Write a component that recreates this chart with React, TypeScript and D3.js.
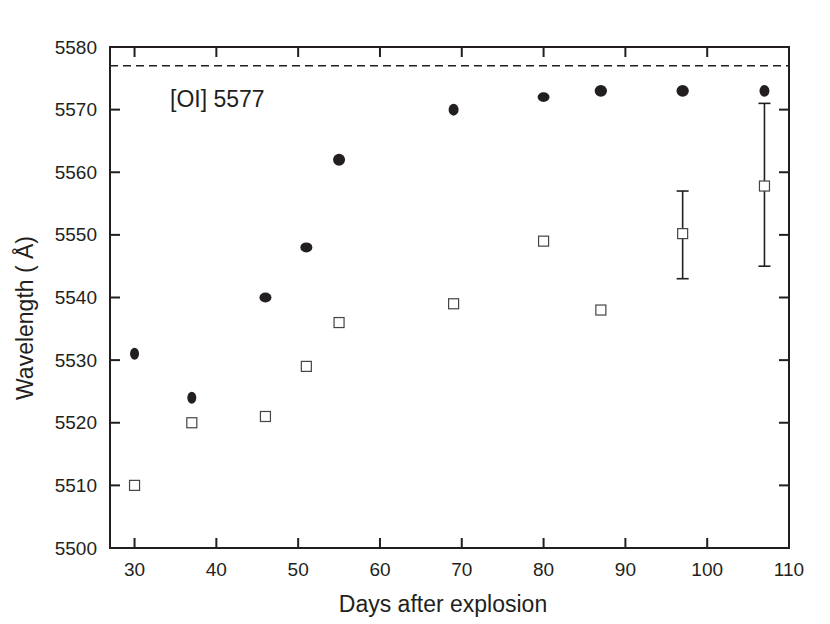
import React from "react";
import * as d3 from "d3";

const days = [30, 37, 46, 51, 55, 69, 80, 87, 97, 107];
const filledValues = [5531, 5524, 5540, 5548, 5562, 5570, 5572, 5573, 5573, 5573];
const openValues = [5510, 5520, 5521, 5529, 5536, 5539, 5549, 5538, 5550.2, 5557.8];
const errorDays = [97, 107];
const errorLow = [5543, 5545];
const errorHigh = [5557, 5571];
const xTicks = [30, 40, 50, 60, 70, 80, 90, 100, 110];
const yTicks = [5500, 5510, 5520, 5530, 5540, 5550, 5560, 5570, 5580];
const restWavelength = 5577;
const labelText = "[OI] 5577";
const xTitle = "Days after explosion";
const yTitle = "Wavelength ( Å)";

// marker shape styling (rx, ry) per filled point
const markerRx = [4.5, 4.5, 6, 6, 6, 5, 6, 6.2, 6.2, 5];
const markerRy = [6, 6, 5, 5, 6, 6, 4.8, 5.8, 5.8, 5.8];

const W = 830;
const H = 624;
const M = { left: 110, right: 789, top: 47, bottom: 548 };
const INK = "#231f20";
const FONT = "Liberation Sans, Arial, Helvetica, sans-serif";

export default function App() {
  const x = d3.scaleLinear().domain([27, 110]).range([M.left, M.right]);
  const y = d3.scaleLinear().domain([5500, 5580]).range([M.bottom, M.top]);
  const tl = 10;
  return (
    <svg width={W} height={H} style={{ position: "absolute", left: 0, top: 0, background: "#fff" }}>
      {/* dashed rest line */}
      <line x1={M.left} x2={M.right} y1={y(restWavelength)} y2={y(restWavelength)} stroke={INK} strokeWidth={1.4} strokeDasharray="8,5" />
      {/* frame */}
      <rect x={M.left} y={M.top} width={M.right - M.left} height={M.bottom - M.top} fill="none" stroke={INK} strokeWidth={2} />
      {/* x ticks */}
      {xTicks.map((t) => (
        <g key={"x" + t}>
          {t < 110 && (
            <>
              <line x1={x(t)} x2={x(t)} y1={M.bottom} y2={M.bottom - tl} stroke={INK} strokeWidth={2} />
              <line x1={x(t)} x2={x(t)} y1={M.top} y2={M.top + tl} stroke={INK} strokeWidth={2} />
            </>
          )}
          <text x={x(t)} y={576} textAnchor="middle" fontSize={19} fontFamily={FONT} fill={INK}>{t}</text>
        </g>
      ))}
      {/* y ticks */}
      {yTicks.map((t) => (
        <g key={"y" + t}>
          {t > 5500 && t < 5580 && (
            <>
              <line x1={M.left} x2={M.left + tl} y1={y(t)} y2={y(t)} stroke={INK} strokeWidth={2} />
              <line x1={M.right} x2={M.right - tl} y1={y(t)} y2={y(t)} stroke={INK} strokeWidth={2} />
            </>
          )}
          <text x={97} y={y(t) + 6.5} textAnchor="end" fontSize={19} fontFamily={FONT} fill={INK}>{t}</text>
        </g>
      ))}
      {/* error bars */}
      {errorDays.map((d, i) => (
        <g key={"e" + d} stroke={INK} strokeWidth={1.6}>
          <line x1={x(d)} x2={x(d)} y1={y(errorLow[i])} y2={y(errorHigh[i])} />
          <line x1={x(d) - 6} x2={x(d) + 6} y1={y(errorLow[i])} y2={y(errorLow[i])} />
          <line x1={x(d) - 6} x2={x(d) + 6} y1={y(errorHigh[i])} y2={y(errorHigh[i])} />
        </g>
      ))}
      {/* open squares */}
      {days.map((d, i) => (
        <rect key={"o" + d} x={x(d) - 5} y={y(openValues[i]) - 5} width={10} height={10} fill="#fff" stroke="#444" strokeWidth={1.2} />
      ))}
      {/* filled ellipses */}
      {days.map((d, i) => (
        <ellipse key={"f" + d} cx={x(d)} cy={y(filledValues[i])} rx={markerRx[i]} ry={markerRy[i]} fill={INK} />
      ))}
      <text x={170} y={107} fontSize={23} fontFamily={FONT} fill={INK}>{labelText}</text>
      <text x={443} y={612} textAnchor="middle" fontSize={23} fontFamily={FONT} fill={INK}>{xTitle}</text>
      <text transform={`translate(33,318) rotate(-90)`} textAnchor="middle" fontSize={23} fontFamily={FONT} fill={INK}>{yTitle}</text>
    </svg>
  );
}
